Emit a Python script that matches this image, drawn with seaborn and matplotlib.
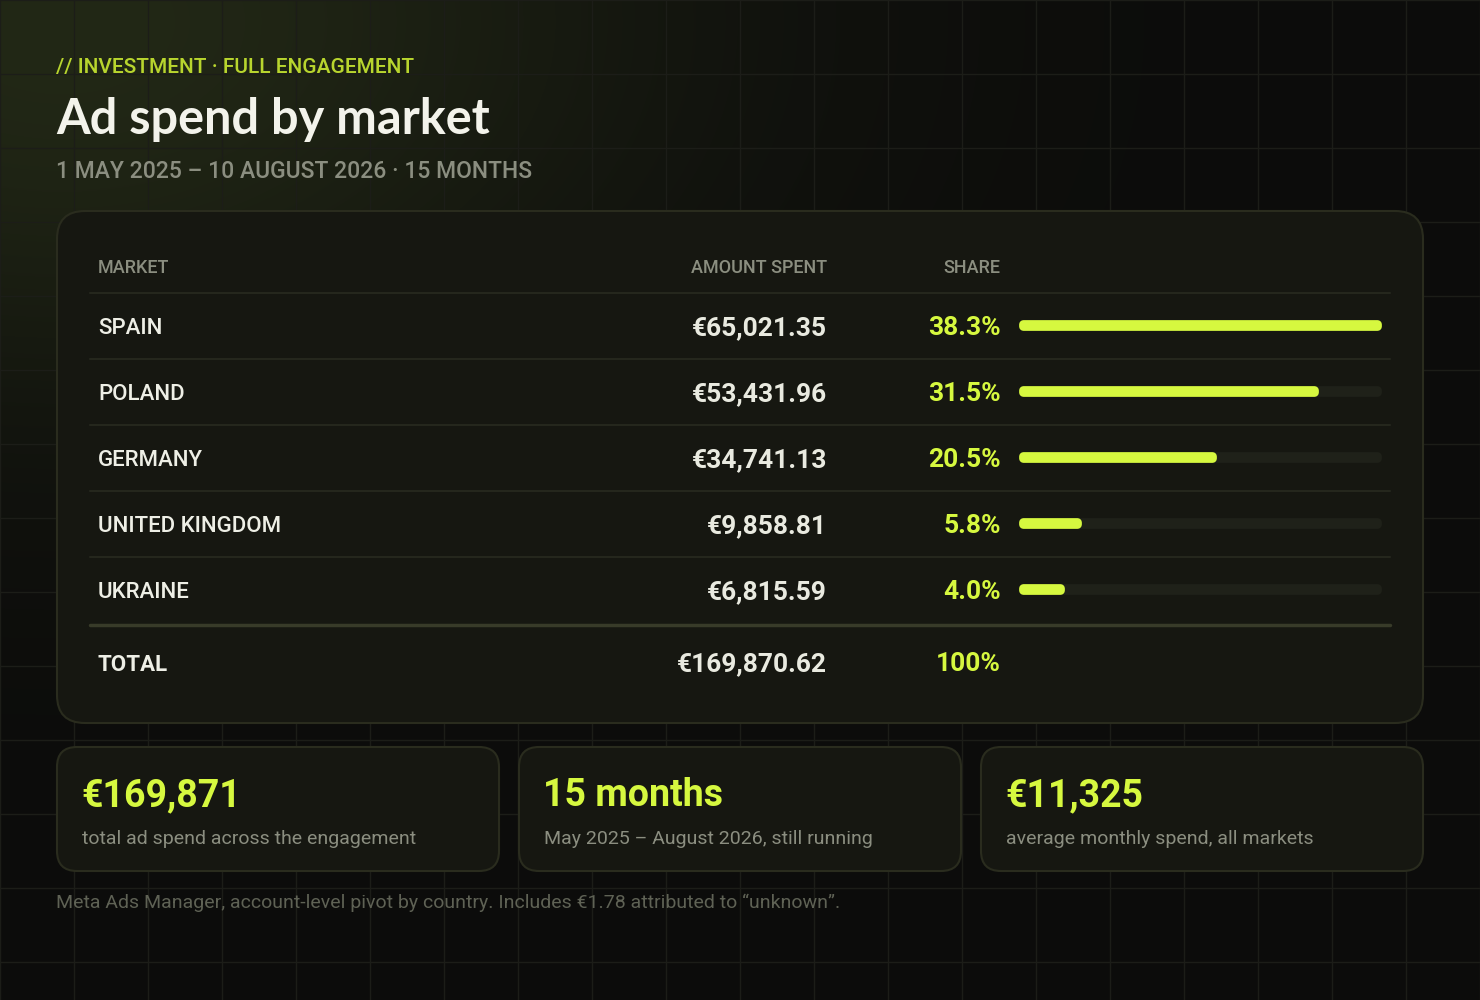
import numpy as np
import pandas as pd
import matplotlib.pyplot as plt
from matplotlib.patches import FancyBboxPatch
import seaborn as sns

# Data
markets = ["SPAIN", "POLAND", "GERMANY", "UNITED KINGDOM", "UKRAINE"]
amounts = [65021.35, 53431.96, 34741.13, 9858.81, 6815.59]
shares = [38.3, 31.5, 20.5, 5.8, 4.0]
total_amount = 169870.62
total_share = "100%"
stat_values = ["€169,871", "15 months", "€11,325"]
stat_notes = ["total ad spend across the engagement",
              "May 2025 – August 2026, still running",
              "average monthly spend, all markets"]

kicker = "// INVESTMENT · FULL ENGAGEMENT"
title = "Ad spend by market"
subtitle = "1 MAY 2025 – 10 AUGUST 2026 · 15 MONTHS"
footnote = "Meta Ads Manager, account-level pivot by country. Includes €1.78 attributed to “unknown”."

# Colours
BG = "#0c0c0b"
GLOW = "#222816"
CARD = "#161711"
CARD_EDGE = "#2a2c1e"
LIME = "#d6f83f"
LIME_DIM = "#b8d52e"
WHITE = "#eeefe6"
GREY = "#8b8e80"
TRACK = "#1f2119"

sns.set_theme(style="white")
plt.rcParams["font.family"] = ["Roboto", "DejaVu Sans"]

fig = plt.figure(figsize=(14.8, 10), dpi=100, facecolor=BG)
canvas = fig.add_axes([0, 0, 1, 1])
canvas.set_facecolor(BG)

# background glow top-left
yy, xx = np.mgrid[0:1000:4, 0:1480:4]
d = np.hypot((xx - 60) / 750, (yy - 20) / 480)
w = np.exp(-(d ** 2) * 1.6)[..., None]
bg = np.array([int(BG[i:i + 2], 16) for i in (1, 3, 5)]) / 255
gl = np.array([int(GLOW[i:i + 2], 16) for i in (1, 3, 5)]) / 255
img = bg * (1 - w) + gl * w
canvas.imshow(img, extent=(0, 1480, 1000, 0), aspect="auto", zorder=0,
              interpolation="bilinear")

# grid
for gx in range(0, 1481, 74):
    canvas.axvline(gx, color="#1c1d18", lw=1, zorder=1)
for gy in range(0, 1001, 74):
    canvas.axhline(gy, color="#1c1d18", lw=1, zorder=1)

canvas.set_xlim(0, 1480)
canvas.set_ylim(1000, 0)
canvas.axis("off")


def card(x, y, w, h, r):
    canvas.add_patch(FancyBboxPatch((x, y), w, h,
                                    boxstyle=f"round,pad=0,rounding_size={r}",
                                    fc=CARD, ec=CARD_EDGE, lw=1.5, zorder=2))


# header
canvas.text(56, 67, kicker, color=LIME_DIM, fontsize=15, fontweight="medium",
            va="center", zorder=3)
canvas.text(56, 134, title, color="#f3f3eb", fontsize=35, fontweight="bold",
            family=["Lato", "DejaVu Sans"], va="baseline", zorder=3)
canvas.text(56, 171, subtitle, color=GREY, fontsize=16.5, fontweight="medium",
            va="center", zorder=3)

# main table card
card(57, 211, 1366, 512, 28)
for label, x, ha in [("MARKET", 98, "left"), ("AMOUNT SPENT", 827, "right"),
                     ("SHARE", 1000, "right")]:
    canvas.text(x, 268, label, color=GREY, fontsize=13, fontweight="medium",
                va="center", ha=ha, zorder=3)

for i, (m, a, s) in enumerate(zip(markets, amounts, shares)):
    y = 326 + 66 * i
    canvas.plot([90, 1390], [y - 33, y - 33], color="#25271d", lw=1.5, zorder=3)
    canvas.text(98, y + 3, m, color=WHITE, fontsize=16, fontweight="medium",
                va="center", zorder=3)
    canvas.text(827, y + 2, f"€{a:,.2f}", color="#e9eae0", fontsize=19,
                fontweight="bold", va="center", ha="right", zorder=3)
    canvas.text(1001, y + 2, f"{s:.1f}%", color=LIME, fontsize=19,
                fontweight="bold", va="center", ha="right", zorder=3)

canvas.plot([90, 1390], [625, 625], color="#383b29", lw=2.5, zorder=3)
canvas.text(98, 665, "TOTAL", color=WHITE, fontsize=16, fontweight="bold",
            va="center", zorder=3)
canvas.text(827, 664, f"€{total_amount:,.2f}", color="#e9eae0", fontsize=19,
            fontweight="bold", va="center", ha="right", zorder=3)
canvas.text(1001, 664, total_share, color=LIME, fontsize=19,
            fontweight="bold", va="center", ha="right", zorder=3)

# share bars
bars = pd.DataFrame({"market": markets, "share": shares,
                     "track": [max(shares)] * len(shares)})
ax = fig.add_axes([1023 / 1480, 1 - 622 / 1000, 354 / 1480, 330 / 1000])
sns.barplot(data=bars, x="track", y="market", color=TRACK, saturation=1,
            width=0.02, errorbar=None, ax=ax)
sns.barplot(data=bars, x="share", y="market", color=LIME, saturation=1,
            width=0.02, errorbar=None, ax=ax)
for p in ax.patches:
    p.set_edgecolor(p.get_facecolor())
    p.set_linewidth(6.3)
    p.set_joinstyle("round")
    p.set_capstyle("round")
    p.set_clip_on(False)
ax.set_xlim(0, max(shares))
ax.set_ylim(len(markets) - 0.5, -0.5)
ax.set_facecolor("none")
ax.axis("off")

# stat cards
for k, (v, n) in enumerate(zip(stat_values, stat_notes)):
    x0 = 57 + 462 * k
    card(x0, 747, 442, 124, 20)
    canvas.text(x0 + 24, 796, v, color=LIME, fontsize=27, fontweight="bold",
                va="center", zorder=3)
    canvas.text(x0 + 25, 839, n, color=GREY, fontsize=14, va="center",
                zorder=3)

canvas.text(56, 903, footnote, color="#5f6255", fontsize=14, va="center",
            zorder=3)

fig.savefig("out.png", dpi=100, facecolor=BG)
